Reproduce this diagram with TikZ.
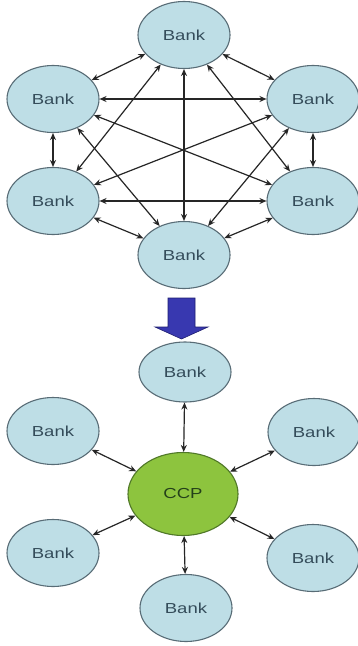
\documentclass[tikz,border=0pt]{standalone}
\usepackage{fontspec}
\setmainfont{Liberation Sans}
\usepackage{graphicx}
\usetikzlibrary{shapes.geometric,arrows.meta}

\definecolor{bankfill}{RGB}{190,222,230}
\definecolor{bankline}{RGB}{88,108,118}
\definecolor{banktext}{RGB}{52,76,90}
\definecolor{ccpfill}{RGB}{141,196,62}
\definecolor{ccpline}{RGB}{80,120,40}
\definecolor{ccptext}{RGB}{36,64,26}
\definecolor{flowfill}{RGB}{56,56,176}
\definecolor{flowline}{RGB}{30,30,112}

% labels are set a little wide, as in the original artwork
\newcommand{\widetext}[1]{\scalebox{1.28}[1]{#1}}

\tikzset{
  bank/.style={ellipse, draw=bankline, fill=bankfill, line width=1.1pt,
    minimum width=92pt, minimum height=67pt, inner sep=0pt,
    text=banktext, font=\fontsize{14.5}{14.5}\selectfont},
  ccp/.style={ellipse, draw=ccpline, fill=ccpfill, line width=1.1pt,
    minimum width=110pt, minimum height=83pt, inner sep=0pt,
    text=ccptext, font=\fontsize{14.5}{14.5}\selectfont},
  link/.style={{Stealth[length=7pt,width=6pt]}-{Stealth[length=7pt,width=6pt]},
    line width=1.2pt, black!85},
}

\begin{document}
\begin{tikzpicture}[x=1pt,y=-1pt]
  \fill[white] (0,0) rectangle (358,646);
  \useasboundingbox (0,0) rectangle (358,646);

  % bilateral network: every bank linked to every other
  \node[bank] (a) at (184,35)  {\widetext{Bank}};
  \node[bank] (b) at (53,99)   {\widetext{Bank}};
  \node[bank] (c) at (313,99)  {\widetext{Bank}};
  \node[bank] (d) at (53,201)  {\widetext{Bank}};
  \node[bank] (e) at (313,201) {\widetext{Bank}};
  \node[bank] (f) at (184,255) {\widetext{Bank}};

  \foreach \u/\v in {a/b,a/c,a/d,a/e,a/f,b/c,b/d,b/e,b/f,c/d,c/e,c/f,d/e,d/f,e/f}
    \draw[link] (\u) -- (\v);

  % transition arrow
  \filldraw[fill=flowfill, draw=flowline, line width=0.6pt]
    (168,298) -- (195,298) -- (195,327) -- (208,327) -- (181.5,339)
    -- (155,327) -- (168,327) -- cycle;

  % central clearing: every bank linked to the CCP only
  \node[ccp] (ccp) at (183,494) {\widetext{CCP}};
  \node[bank, minimum height=60pt] (g) at (185,372) {\widetext{Bank}};
  \node[bank] (h) at (53,431)  {\widetext{Bank}};
  \node[bank] (i) at (314,432) {\widetext{Bank}};
  \node[bank] (j) at (53,553)  {\widetext{Bank}};
  \node[bank] (k) at (313,558) {\widetext{Bank}};
  \node[bank] (l) at (186,608) {\widetext{Bank}};

  \foreach \v in {g,h,i,j,k,l}
    \draw[link] (ccp) -- (\v);
\end{tikzpicture}
\end{document}
